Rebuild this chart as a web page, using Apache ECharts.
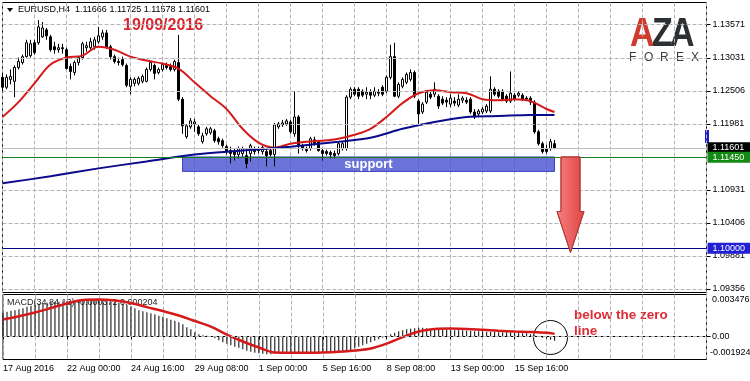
<!DOCTYPE html>
<html><head><meta charset="utf-8">
<script src="https://cdn.jsdelivr.net/npm/echarts@6/dist/echarts.min.js"></script>
<style>html,body{margin:0;padding:0;background:#fff}#c{width:750px;height:381px}</style>
</head><body><div id="c"></div>
<script>
// ---------- DATA ----------
const symbolName = 'EURUSD,H4';
const xTickLabels = ['17 Aug 2016','22 Aug 00:00','24 Aug 16:00','29 Aug 08:00','1 Sep 00:00','5 Sep 16:00','8 Sep 08:00','13 Sep 00:00','15 Sep 16:00'];
const slotCount = 177;
const categories = Array.from({length: slotCount}, (_, i) => String(i));

const open = [
1.12722,1.12564,1.12690,1.12659,1.12879,1.12958,1.13052,1.13068,1.13273,1.13273,
1.13367,1.13478,1.13367,1.13210,1.13163,1.13194,1.13163,1.12895,1.12800,1.12958,
1.13037,1.13194,1.13194,1.13210,1.13289,1.13367,1.13430,1.13210,1.13052,1.12974,
1.13005,1.12911,1.12580,1.12627,1.12627,1.12659,1.12659,1.12848,1.12911,1.12800,
1.12848,1.12911,1.12895,1.12848,1.12958,1.12375,1.11777,1.11934,1.11981,1.11934,
1.11698,1.11824,1.11840,1.11871,1.11745,1.11714,1.11619,1.11556,1.11540,1.11493,
1.11509,1.11477,1.11509,1.11588,1.11588,1.11540,1.11540,1.11556,1.11493,1.11934,
1.11966,1.11981,1.12013,1.11824,1.12092,1.11635,1.11572,1.11588,1.11729,1.11698,
1.11556,1.11540,1.11525,1.11509,1.11509,1.11588,1.11588,1.12407,1.12533,1.12533,
1.12501,1.12454,1.12485,1.12438,1.12485,1.12564,1.12501,1.12722,1.13052,1.12422,
1.12580,1.12643,1.12690,1.12800,1.12344,1.12170,1.12328,1.12454,1.12454,1.12422,
1.12375,1.12359,1.12296,1.12344,1.12281,1.12359,1.12359,1.12375,1.12170,1.12139,
1.12170,1.12186,1.12186,1.12533,1.12501,1.12501,1.12422,1.12344,1.12438,1.12438,
1.12438,1.12391,1.12391,1.12328,1.11855,1.11666,1.11588,1.11588,1.11666];
const close = [
1.12564,1.12722,1.12737,1.12879,1.12974,1.13052,1.13273,1.13257,1.13115,1.13525,
1.13509,1.13383,1.13163,1.13163,1.13194,1.13178,1.12863,1.12816,1.12958,1.13037,
1.13257,1.13226,1.13289,1.13320,1.13383,1.13430,1.13210,1.13052,1.12974,1.12958,
1.12926,1.12596,1.12690,1.12690,1.12706,1.12737,1.12848,1.12958,1.12785,1.12848,
1.12926,1.12879,1.12848,1.12974,1.12375,1.11950,1.11950,1.12029,1.12013,1.11824,
1.11792,1.11903,1.11903,1.11714,1.11698,1.11635,1.11540,1.11509,1.11493,1.11588,
1.11588,1.11351,1.11635,1.11540,1.11556,1.11603,1.11477,1.11493,1.11966,1.11981,
1.11997,1.12029,1.11855,1.12092,1.11635,1.11588,1.11556,1.11745,1.11666,1.11556,
1.11509,1.11509,1.11493,1.11477,1.11666,1.11666,1.12407,1.12533,1.12454,1.12422,
1.12438,1.12485,1.12438,1.12501,1.12470,1.12454,1.12722,1.13052,1.12422,1.12611,
1.12690,1.12769,1.12800,1.12422,1.12139,1.12296,1.12485,1.12407,1.12533,1.12265,
1.12312,1.12328,1.12391,1.12312,1.12375,1.12391,1.12328,1.12170,1.12092,1.12186,
1.12218,1.12265,1.12533,1.12454,1.12422,1.12375,1.12344,1.12470,1.12375,1.12470,
1.12375,1.12375,1.12328,1.11855,1.11666,1.11540,1.11540,1.11698,1.11601];
const low = [
1.12501,1.12533,1.12611,1.12407,1.12848,1.12926,1.13037,1.13037,1.13084,1.13241,
1.13352,1.13320,1.13131,1.13100,1.13115,1.13100,1.12848,1.12690,1.12753,1.12911,
1.13005,1.13131,1.13163,1.13163,1.13257,1.13320,1.13178,1.13005,1.12942,1.12911,
1.12895,1.12564,1.12454,1.12580,1.12596,1.12627,1.12643,1.12816,1.12690,1.12769,
1.12816,1.12848,1.12816,1.12816,1.12344,1.11824,1.11745,1.11903,1.11855,1.11792,
1.11666,1.11792,1.11808,1.11682,1.11651,1.11603,1.11493,1.11351,1.11399,1.11430,
1.11462,1.11273,1.11383,1.11493,1.11509,1.11493,1.11304,1.11462,1.11304,1.11903,
1.11934,1.11950,1.11824,1.11777,1.11509,1.11556,1.11525,1.11556,1.11635,1.11540,
1.11399,1.11477,1.11430,1.11430,1.11477,1.11556,1.11556,1.12375,1.12422,1.12375,
1.12407,1.12375,1.12375,1.12407,1.12422,1.12422,1.12470,1.12690,1.12407,1.12391,
1.12548,1.12611,1.12659,1.12391,1.11981,1.12139,1.12296,1.12375,1.12407,1.12218,
1.12281,1.12249,1.12249,1.12265,1.12249,1.12312,1.12296,1.12139,1.12060,1.12107,
1.12139,1.12155,1.12155,1.12422,1.12391,1.12344,1.12312,1.12312,1.12344,1.12407,
1.12344,1.12344,1.12281,1.11824,1.11635,1.11509,1.11509,1.11556,1.11578];
const high = [
1.12785,1.12769,1.12848,1.12911,1.13037,1.13084,1.13320,1.13320,1.13320,1.13635,
1.13604,1.13509,1.13399,1.13289,1.13257,1.13257,1.13194,1.12942,1.12989,1.13052,
1.13289,1.13289,1.13352,1.13367,1.13525,1.13478,1.13478,1.13241,1.13084,1.13037,
1.13052,1.12942,1.12722,1.12722,1.12737,1.12769,1.12879,1.12974,1.12942,1.12879,
1.12958,1.12958,1.12942,1.13005,1.13399,1.12407,1.11981,1.12076,1.12060,1.11966,
1.11840,1.11934,1.11934,1.11903,1.11777,1.11745,1.11651,1.11619,1.11588,1.11619,
1.11619,1.11588,1.11666,1.11619,1.11619,1.11635,1.11588,1.11603,1.11997,1.12013,
1.12044,1.12060,1.12044,1.12501,1.12123,1.11666,1.11619,1.11777,1.11777,1.11729,
1.11588,1.11572,1.11556,1.11556,1.11698,1.11698,1.12438,1.12564,1.12564,1.12564,
1.12533,1.12564,1.12533,1.12564,1.12533,1.12596,1.12753,1.13241,1.13273,1.12643,
1.12722,1.12800,1.12848,1.12832,1.12375,1.12328,1.12517,1.12501,1.12643,1.12454,
1.12422,1.12407,1.12454,1.12407,1.12454,1.12422,1.12407,1.12407,1.12218,1.12218,
1.12249,1.12296,1.12737,1.12564,1.12533,1.12533,1.12454,1.12816,1.12470,1.12501,
1.12470,1.12422,1.12422,1.12359,1.11887,1.11698,1.11651,1.11745,1.11725];

// moving averages: [bar index, price]
const redMA = [[0,1.12092],[4,1.12328],[8,1.12627],[12,1.12926],[16,1.13037],[20,1.13068],[24,1.13210],[28,1.13163],
[32,1.13052],[36,1.12989],[40,1.12942],[44,1.12863],[48,1.12643],[52,1.12422],[56,1.12218],[60,1.11903],[64,1.11682],
[68,1.11603],[72,1.11666],[76,1.11698],[80,1.11714],[84,1.11745],[88,1.11808],[92,1.11903],[96,1.12092],[100,1.12312],
[104,1.12470],[108,1.12517],[112,1.12485],[116,1.12470],[120,1.12375],[124,1.12359],[128,1.12375],[132,1.12344],
[136,1.12218],[138,1.12170]];
const blueMA = [[0,1.11036],[12,1.11147],[24,1.11273],[36,1.11383],[48,1.11493],[60,1.11556],[72,1.11619],[84,1.11698],
[92,1.11761],[100,1.11903],[108,1.12013],[116,1.12092],[124,1.12107],[132,1.12123],[138,1.12123]];

const macdHist = [
0.001953,0.002036,0.002119,0.002161,0.002244,0.002327,0.002451,0.002535,0.002618,0.002701,
0.002742,0.002784,0.002825,0.002867,0.002867,0.002909,0.002909,0.002909,0.002950,0.002950,
0.002950,0.002992,0.002992,0.002992,0.002992,0.002950,0.002909,0.002867,0.002825,0.002784,
0.002701,0.002618,0.002493,0.002327,0.002161,0.002078,0.001994,0.001911,0.001828,0.001704,
0.001620,0.001496,0.001371,0.001288,0.001163,0.000997,0.000748,0.000582,0.000332,0.000166,
0.000083,0.000042,-0.000042,-0.000166,-0.000332,-0.000499,-0.000623,-0.000748,-0.000873,-0.000956,
-0.001080,-0.001205,-0.001288,-0.001371,-0.001413,-0.001454,-0.001496,-0.001496,-0.001454,-0.001413,
-0.001413,-0.001371,-0.001371,-0.001371,-0.001371,-0.001371,-0.001371,-0.001371,-0.001371,-0.001371,
-0.001371,-0.001371,-0.001371,-0.001371,-0.001371,-0.001330,-0.001247,-0.001163,-0.000997,-0.000873,
-0.000748,-0.000623,-0.000499,-0.000374,-0.000249,-0.000125,0.000042,0.000166,0.000291,0.000416,
0.000499,0.000582,0.000623,0.000665,0.000706,0.000706,0.000665,0.000623,0.000582,0.000582,
0.000540,0.000540,0.000540,0.000499,0.000499,0.000499,0.000457,0.000457,0.000416,0.000416,
0.000416,0.000374,0.000374,0.000374,0.000332,0.000332,0.000332,0.000332,0.000291,0.000291,
0.000249,0.000249,0.000166,0.000083,0.000000,-0.000125,-0.000208,-0.000291,-0.000372];
const macdSignal = [[0,0.00140],[4,0.00167],[8,0.00198],[12,0.00235],[16,0.00273],[20,0.00302],[24,0.00306],
[28,0.00298],[32,0.00277],[36,0.00243],[40,0.00210],[44,0.00173],[48,0.00127],[52,0.00081],[56,0.00015],
[60,-0.00043],[64,-0.00093],[68,-0.00135],[72,-0.00137],[76,-0.00137],[80,-0.00135],[84,-0.00129],[88,-0.00118],
[92,-0.00101],[96,-0.00060],[100,-0.00006],[104,0.00040],[108,0.00061],[112,0.00065],[116,0.00062],[120,0.00054],
[124,0.00046],[128,0.00040],[132,0.00036],[136,0.00029],[138,0.000204]];

const yGridValues = [1.13571,1.13031,1.12506,1.11981,1.11456,1.10931,1.10406,1.09881,1.09356];
const yLabelValues = [1.13571,1.13031,1.12506,1.11981,1.10931,1.10406,1.09881,1.09356];
const macdMin = -0.001924, macdMax = 0.003476;
const macdLabelValues = [macdMax, 0, macdMin];
const bidPrice = 1.11601, supportLevel = 1.11450, targetLevel = 1.10000;
const supportZone = [45, 138, 1.11455, 1.11225];
const arrowData = [[142, 1.11455, 1.10587, 1.09934]];

// ---------- CHART ----------
const FONT = '"Liberation Sans", Arial, sans-serif';
const candles = open.map((o, i) => [o, close[i], low[i], high[i]]);
const last = open.length - 1;
const gridDash = () => ({color: '#b4b4b4', type: 'dashed', width: 1});
const chart = echarts.init(document.getElementById('c'));

function priceLine(v, lineColor, boxColor) {
  return {
    yAxis: v,
    lineStyle: {color: lineColor, type: 'solid', width: 1},
    label: {show: true, position: 'end', distance: 1, formatter: v.toFixed(5), color: '#fff',
      backgroundColor: boxColor, padding: [1, 6, 1, 5], fontSize: 9, lineHeight: 9, fontFamily: FONT}
  };
}

const arrowFill = new echarts.graphic.LinearGradient(0, 0, 1, 0,
  [{offset: 0, color: '#f78080'}, {offset: 1, color: '#e04444'}]);
const tickInterval = (i) => i % 16 === 0 && i / 16 < xTickLabels.length;

const option = {
  animation: false,
  grid: [
    {left: 2.5, top: 2.5, width: 704, height: 290, show: true, borderColor: '#000', borderWidth: 1},
    {left: 2.5, top: 294.5, width: 704, height: 65, show: true, borderColor: '#000', borderWidth: 1}
  ],
  xAxis: [
    {type: 'category', gridIndex: 0, data: categories, boundaryGap: false,
      axisLine: {show: false}, axisTick: {show: false}, axisLabel: {show: false},
      splitLine: {show: true, interval: 7, lineStyle: gridDash()}},
    {type: 'category', gridIndex: 1, data: categories, boundaryGap: false,
      axisLine: {show: true, lineStyle: {color: '#000'}},
      axisTick: {show: true, length: 3, interval: tickInterval, lineStyle: {color: '#000'}},
      axisLabel: {show: true, interval: tickInterval,
        formatter: (v) => xTickLabels[Number(v) / 16] || '', align: 'left', margin: 5,
        fontSize: 9, fontFamily: FONT, color: '#000'},
      splitLine: {show: true, interval: 7, lineStyle: gridDash()}}
  ],
  yAxis: [
    {type: 'value', gridIndex: 0, position: 'right', min: 1.09297, max: 1.13914,
      axisLine: {show: false}, splitLine: {show: false},
      axisTick: {show: true, length: 4, customValues: yLabelValues, lineStyle: {color: '#000'}},
      axisLabel: {customValues: yLabelValues, formatter: (v) => v.toFixed(5), margin: 6,
        fontSize: 9, fontFamily: FONT, color: '#000'}},
    {type: 'value', gridIndex: 1, position: 'right', min: macdMin, max: macdMax,
      axisLine: {show: false}, splitLine: {show: false},
      axisTick: {show: true, length: 4, customValues: [0], lineStyle: {color: '#000'}},
      axisLabel: {show: false}}
  ],
  series: [
    {type: 'line', xAxisIndex: 0, yAxisIndex: 0, data: [], z: 1, silent: true,
      markLine: {silent: true, precision: 6, symbol: ['none', 'none'], label: {show: false}, lineStyle: gridDash(),
        data: yGridValues.map((v) => ({yAxis: v}))}},
    {type: 'line', xAxisIndex: 1, yAxisIndex: 1, data: [], z: 1, silent: true,
      markLine: {silent: true, precision: 6, symbol: ['none', 'none'], label: {show: false}, lineStyle: gridDash(),
        data: [{yAxis: 0}]}},
    {type: 'candlestick', xAxisIndex: 0, yAxisIndex: 0, data: candles, barWidth: 3, z: 2,
      itemStyle: {color: '#fff', color0: '#000', borderColor: '#000', borderColor0: '#000', borderWidth: 1},
      markLine: {silent: true, precision: 6, symbol: ['none', 'none'], animation: false,
        data: [priceLine(bidPrice, '#c0c0c0', '#000'), priceLine(supportLevel, '#1a7f1a', '#138a13'),
               priceLine(targetLevel, '#000080', '#2020d4')]}},
    {type: 'line', xAxisIndex: 0, yAxisIndex: 0, data: redMA, smooth: 0.35, showSymbol: false, z: 3,
      lineStyle: {color: '#d41a1a', width: 2}},
    {type: 'line', xAxisIndex: 0, yAxisIndex: 0, data: blueMA, smooth: 0.3, showSymbol: false, z: 3,
      lineStyle: {color: '#0a0a8c', width: 2}},
    {type: 'line', xAxisIndex: 0, yAxisIndex: 0, data: [], z: 4, silent: true,
      markArea: {silent: true, precision: 6,
        itemStyle: {color: 'rgba(75,84,209,0.82)', borderColor: '#3a44c2', borderWidth: 1},
        label: {show: true, position: 'inside', color: '#fff', fontWeight: 'bold', fontSize: 13, fontFamily: FONT},
        data: [[{xAxis: supportZone[0], yAxis: supportZone[2], name: 'support'}, {xAxis: supportZone[1], yAxis: supportZone[3]}]]}},
    {type: 'custom', xAxisIndex: 0, yAxisIndex: 0, data: arrowData, z: 5, clip: false,
      renderItem: (params, api) => {
        const top = api.coord([api.value(0), api.value(1)]);
        const base = api.coord([api.value(0), api.value(2)]);
        const tip = api.coord([api.value(0), api.value(3)]);
        const cx = top[0], sw = 9.5, hw = 13.5;
        return {type: 'polygon',
          shape: {points: [[cx - sw, top[1]], [cx + sw, top[1]], [cx + sw, base[1]], [cx + hw, base[1]],
                           [cx, tip[1]], [cx - hw, base[1]], [cx - sw, base[1]]]},
          style: {fill: arrowFill, stroke: '#b23a3a', lineWidth: 1}};
      }},
    {type: 'bar', xAxisIndex: 1, yAxisIndex: 1, data: macdHist, barWidth: 1, z: 2,
      itemStyle: {color: '#000'}},
    {type: 'line', xAxisIndex: 1, yAxisIndex: 1, data: macdSignal, smooth: 0.35, showSymbol: false, z: 3,
      lineStyle: {color: '#d41a1a', width: 2.5}}
  ]
};

function baseGraphic() {
  return [
    {type: 'polygon', shape: {points: [[7, 8], [13, 8], [10, 12]]}, style: {fill: '#000'}},
    {type: 'text', x: 18, y: 10, style: {text: symbolName + '  ' + [open[last], high[last], low[last], close[last]].map((v) => v.toFixed(5)).join(' '),
      font: '9px ' + FONT, fill: '#000', verticalAlign: 'middle'}},
    {type: 'text', x: 123, y: 26, style: {text: '19/09/2016', font: 'bold 16px ' + FONT, fill: '#d9262f', verticalAlign: 'middle'}},
    {type: 'text', x: 7, y: 303, z: -1, style: {text: 'MACD(34,84,13) ' + macdHist[last].toFixed(6) + ' ' + macdSignal[macdSignal.length - 1][1].toFixed(6),
      font: '9px ' + FONT, fill: '#222', verticalAlign: 'middle'}},
    {type: 'text', x: 574, y: 315, style: {text: 'below the zero', font: 'bold 13.5px ' + FONT, fill: '#dc2c36', verticalAlign: 'middle'}},
    {type: 'text', x: 574, y: 331, style: {text: 'line', font: 'bold 13.5px ' + FONT, fill: '#dc2c36', verticalAlign: 'middle'}},
    {type: 'circle', shape: {cx: 550.5, cy: 337.5, r: 17}, style: {fill: null, stroke: '#000', lineWidth: 1}},
    {type: 'rect', shape: {x: 705, y: 130, width: 4, height: 13}, style: {fill: '#1a1acc'}},
    {type: 'text', x: 630, y: 35, scaleX: 0.85, style: {text: 'A', font: 'bold 40px ' + FONT, fill: '#cf3a2c', verticalAlign: 'middle'}},
    {type: 'text', x: 652, y: 35, scaleX: 0.85, style: {text: 'Z', font: 'bold 40px ' + FONT, fill: '#2d3033', verticalAlign: 'middle'}},
    {type: 'text', x: 670, y: 35, scaleX: 0.85, style: {text: 'A', font: 'bold 40px ' + FONT, fill: '#2d3033', verticalAlign: 'middle'}},
    {type: 'text', x: 629, y: 58, style: {text: 'F', font: '12px ' + FONT, fill: '#3a3a3a', verticalAlign: 'middle'}},
    {type: 'text', x: 644, y: 58, style: {text: 'O', font: '12px ' + FONT, fill: '#3a3a3a', verticalAlign: 'middle'}},
    {type: 'text', x: 660, y: 58, style: {text: 'R', font: '12px ' + FONT, fill: '#3a3a3a', verticalAlign: 'middle'}},
    {type: 'text', x: 676, y: 58, style: {text: 'E', font: '12px ' + FONT, fill: '#3a3a3a', verticalAlign: 'middle'}},
    {type: 'text', x: 691, y: 58, style: {text: 'X', font: '12px ' + FONT, fill: '#3a3a3a', verticalAlign: 'middle'}}
  ];
}
option.graphic = baseGraphic();
chart.setOption(option);

// MACD axis labels placed from the MACD axis scale (max label inside top, min label inside bottom)
const macdLabels = macdLabelValues.map((v) => {
  const y = chart.convertToPixel({yAxisIndex: 1}, v);
  const va = v === macdMax ? 'top' : (v === macdMin ? 'bottom' : 'middle');
  const yy = v === macdMax ? y + 1 : (v === macdMin ? y - 2 : y);
  return {type: 'text', x: v < 0 ? 710 : 712, y: yy,
    style: {text: v === 0 ? '0.00' : String(v), font: '9px ' + FONT, fill: '#000', verticalAlign: va}};
});
chart.setOption({graphic: baseGraphic().concat(macdLabels)});
</script></body></html>
